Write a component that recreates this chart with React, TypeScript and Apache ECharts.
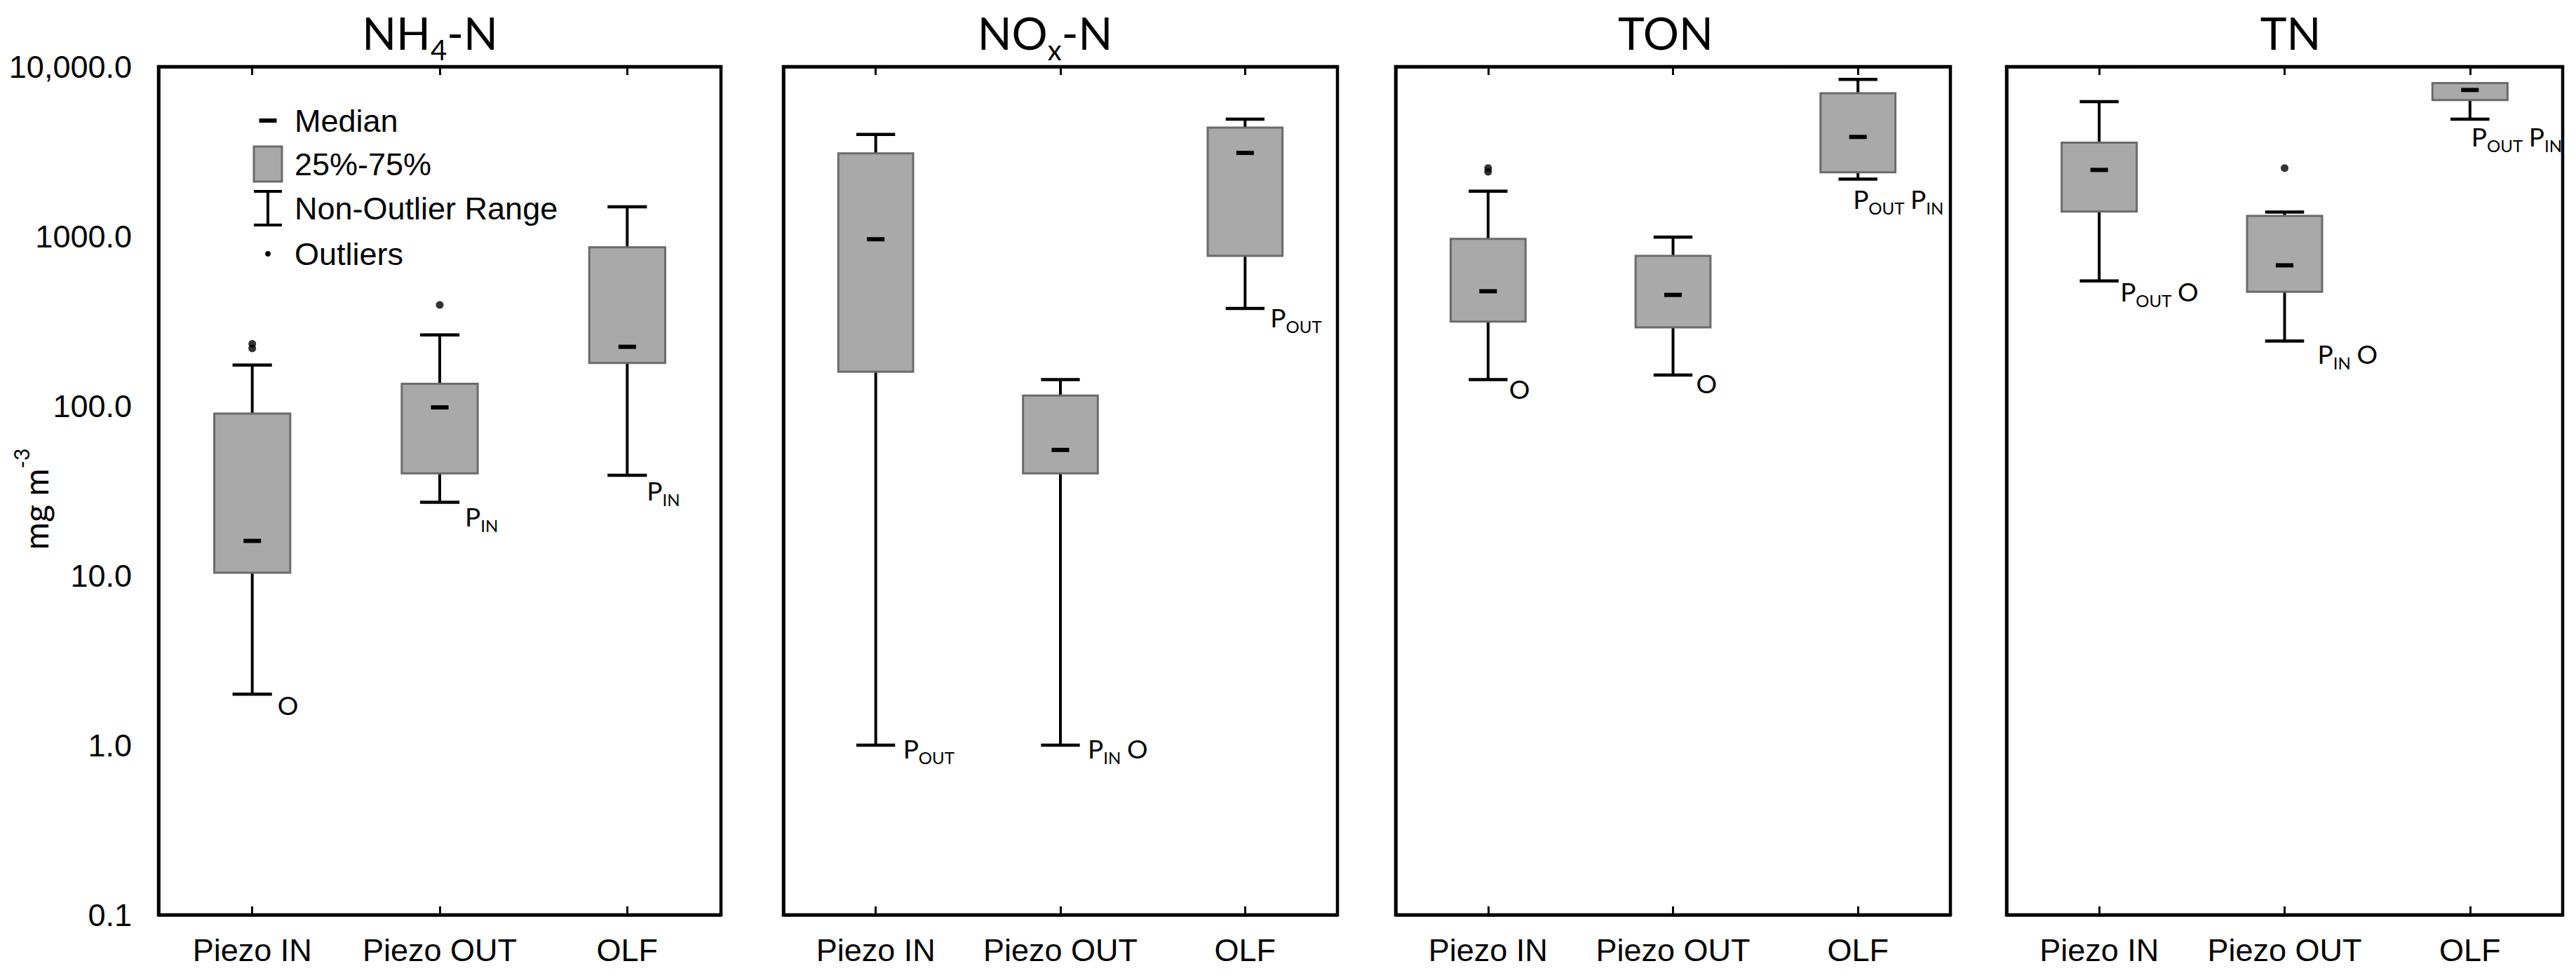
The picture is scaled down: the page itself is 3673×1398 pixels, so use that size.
import React, { useEffect, useRef } from 'react';
import * as echarts from 'echarts';

// ---------------- data ----------------
const categories = ['Piezo IN', 'Piezo OUT', 'OLF'];
const panelTitles = ['{n|NH}{s|4}{n|-N}', '{n|NO}{s|x}{n|-N}', '{n|TON}', '{n|TN}'];
const yAxisTitle = '{a|mg m}{b|-3}';
const legendLabels = ['Median', '25%-75%', 'Non-Outlier Range', 'Outliers'];

// each row: [non-outlier low, 25%, median, 75%, non-outlier high]
const nh4n = [
  [2.0, 10.4, 16, 90, 174],
  [27, 40, 98, 135, 262],
  [39, 179, 223, 860, 1490],
];
const noxn = [
  [1.0, 159, 960, 3080, 3980],
  [1.0, 40, 55, 115, 143],
  [375, 766, 3100, 4370, 4900],
];
const ton = [
  [143, 314, 474, 966, 1844],
  [152, 290, 451, 766, 988],
  [2170, 2380, 3850, 6970, 8400],
];
const tn = [
  [545, 1400, 2460, 3560, 6210],
  [241, 470, 674, 1318, 1387],
  [4900, 6350, 7280, 7990, 7990],
];

// [category index, value]
const nh4nOutliers = [[0, 218], [0, 232], [1, 394]];
const noxnOutliers: number[][] = [];
const tonOutliers = [[0, 2400], [0, 2520]];
const tnOutliers = [[1, 2520]];

// significance notes under the lower whisker
const nh4nNotes = ['O', 'P_IN', 'P_IN'];
const noxnNotes = ['P_OUT', 'P_IN O', 'P_OUT'];
const tonNotes = ['O', 'O', 'P_OUT P_IN'];
const tnNotes = ['P_OUT O', 'P_IN O', 'P_OUT P_IN'];

const boxData = [nh4n, noxn, ton, tn];
const outlierData = [nh4nOutliers, noxnOutliers, tonOutliers, tnOutliers];
const noteData = [nh4nNotes, noxnNotes, tonNotes, tnNotes];

// ---------------- layout / style ----------------
const W = 3673;
const H = 1398;
const GRID_LEFT = [226, 1117, 1990, 2861];
const GRID_RIGHT_EDGE = [1028, 1907, 2781, 3654];
const GRID_TOP = 95;
const GRID_BOTTOM_EDGE = 1305;
const TITLE_X = [613, 1490, 2375, 3266];
const TITLE_Y = 46;
// [dx from category centre, dy from lower whisker] for each note
const NOTE_OFFSETS = [
  [[36, 15], [36, 20], [28, 22]],
  [[39, 4], [39, 4], [36, 12]],
  [[30, 13], [33, 12], [-7, 28]],
  [[30, 15], [47, 18], [2, 25]],
];

const BOX_FILL = '#a9a9a9';
const BOX_STROKE = '#6b6b6b';
const LABEL_FONT = '"Liberation Sans", Arial, sans-serif';
const TITLE_FONT = 'Lato, "Open Sans", sans-serif';

function noteToRich(note: string) {
  return note
    .split(' ')
    .map((tok) => {
      const [main, sub] = tok.split('_');
      return `{p|${main}}` + (sub ? `{s|${sub}}` : '');
    })
    .join('{g| }');
}

const noteRich = {
  p: { fontSize: 37, lineHeight: 50, fontFamily: TITLE_FONT, fill: '#000', color: '#000' },
  g: { fontSize: 34, lineHeight: 50, fontFamily: TITLE_FONT, fill: '#000', color: '#000' },
  s: { fontSize: 24, lineHeight: 25, verticalAlign: 'bottom', fontFamily: TITLE_FONT, fill: '#000', color: '#000' },
};

const makeRender = (panel: number) => (params: any, api: any) => {
  const i = api.value(0);
  const low = api.value(1);
  const q1 = api.value(2);
  const med = api.value(3);
  const q3 = api.value(4);
  const high = api.value(5);
  const pLow = api.coord([i, low]);
  const cx = pLow[0];
  const yLow = pLow[1];
  const yQ1 = api.coord([i, q1])[1];
  const yMed = api.coord([i, med])[1];
  const yQ3 = api.coord([i, q3])[1];
  const yHigh = api.coord([i, high])[1];
  const band = api.coord([1, 1])[0] - api.coord([0, 1])[0];
  const boxW = band * 0.405;
  const capW = band * 0.21;
  const line = { stroke: '#000', lineWidth: 4 };
  const children: any[] = [];
  children.push({ type: 'line', shape: { x1: cx, y1: yLow, x2: cx, y2: yQ1 }, style: line });
  children.push({ type: 'line', shape: { x1: cx - capW / 2, y1: yLow, x2: cx + capW / 2, y2: yLow }, style: { stroke: '#000', lineWidth: 4.5 } });
  if (high > q3) {
    children.push({ type: 'line', shape: { x1: cx, y1: yQ3, x2: cx, y2: yHigh }, style: line });
    children.push({ type: 'line', shape: { x1: cx - capW / 2, y1: yHigh, x2: cx + capW / 2, y2: yHigh }, style: { stroke: '#000', lineWidth: 4.5 } });
  }
  children.push({
    type: 'rect',
    shape: { x: cx - boxW / 2, y: yQ3, width: boxW, height: yQ1 - yQ3 },
    style: { fill: BOX_FILL, stroke: BOX_STROKE, lineWidth: 3 },
  });
  children.push({
    type: 'rect',
    shape: { x: cx - 12.5, y: yMed - 3, width: 25, height: 6 },
    style: { fill: '#000' },
  });
  const note = noteData[panel][i];
  const off = NOTE_OFFSETS[panel][i];
  if (note) {
    children.push({
      type: 'text',
      x: cx + off[0],
      y: yLow + off[1],
      style: {
        text: noteToRich(note),
        rich: noteRich,
        fill: '#000',
        align: 'left',
        verticalAlign: 'middle',
        fontFamily: TITLE_FONT,
        fontSize: 37,
      },
    });
  }
  return { type: 'group', children };
};

function yLabel(v: number) {
  if (v >= 9999.5) return Math.round(v).toLocaleString('en-US') + '.0';
  return v.toFixed(1);
}

function buildOption() {
  const grid: any[] = [];
  const xAxis: any[] = [];
  const yAxis: any[] = [];
  const series: any[] = [];
  const graphic: any[] = [];

  for (let p = 0; p < 4; p++) {
    grid.push({
      left: GRID_LEFT[p],
      top: GRID_TOP,
      width: GRID_RIGHT_EDGE[p] - GRID_LEFT[p],
      height: GRID_BOTTOM_EDGE - GRID_TOP,
      show: true,
      borderColor: '#000',
      borderWidth: 4.5,
      backgroundColor: 'transparent',
    });
    const tick = { show: true, inside: true, alignWithLabel: true, interval: 0, length: 12, lineStyle: { color: '#000', width: 3 } };
    xAxis.push({
      type: 'category',
      gridIndex: p,
      position: 'bottom',
      data: categories,
      axisLine: { show: true, lineStyle: { color: '#000', width: 4.5 } },
      axisTick: tick,
      axisLabel: { show: true, interval: 0, hideOverlap: false, color: '#000', fontSize: 45, fontFamily: LABEL_FONT, margin: 28 },
      splitLine: { show: false },
    });
    xAxis.push({
      type: 'category',
      gridIndex: p,
      position: 'top',
      data: categories,
      axisLine: { show: true, lineStyle: { color: '#000', width: 4.5 } },
      axisTick: tick,
      axisLabel: { show: false, interval: 0 },
      splitLine: { show: false },
    });
    yAxis.push({
      type: 'log',
      logBase: 10,
      gridIndex: p,
      min: 0.1,
      max: 10000,
      axisLine: { show: true, lineStyle: { color: '#000', width: 4.5 } },
      axisTick: { show: false },
      splitLine: { show: false },
      axisLabel: {
        show: p === 0,
        color: '#000',
        fontSize: 45,
        fontFamily: LABEL_FONT,
        margin: 38,
        formatter: yLabel,
      },
    });
    series.push({
      type: 'custom',
      xAxisIndex: p * 2,
      yAxisIndex: p,
      renderItem: makeRender(p),
      encode: { x: 0, y: [1, 2, 3, 4, 5] },
      data: boxData[p].map((row, i) => [i, ...row]),
      z: 2,
      silent: true,
    });
    if (outlierData[p].length) {
      series.push({
        type: 'scatter',
        xAxisIndex: p * 2,
        yAxisIndex: p,
        data: outlierData[p],
        symbol: 'circle',
        symbolSize: 11,
        itemStyle: { color: '#000' },
        z: 3,
        silent: true,
      });
    }
    graphic.push({
      type: 'text',
      x: TITLE_X[p],
      y: TITLE_Y,
      style: {
        text: panelTitles[p],
        rich: {
          n: { fontSize: 64, lineHeight: 90, fontFamily: TITLE_FONT, fill: '#000', color: '#000' },
          s: { fontSize: 40, lineHeight: 40, verticalAlign: 'bottom', fontFamily: TITLE_FONT, fill: '#000', color: '#000' },
        },
        align: 'center',
        verticalAlign: 'middle',
        fill: '#000',
      },
    });
  }

  // y axis title
  graphic.push({
    type: 'text',
    x: 50,
    y: 712,
    rotation: Math.PI / 2,
    style: {
      text: yAxisTitle,
      rich: {
        a: { fontSize: 48, lineHeight: 70, fontFamily: TITLE_FONT, fill: '#000', color: '#000' },
        b: { fontSize: 30, lineHeight: 30, verticalAlign: 'top', fontFamily: TITLE_FONT, fill: '#000', color: '#000' },
      },
      align: 'center',
      verticalAlign: 'middle',
      fill: '#000',
    },
  });

  // legend (inside first panel)
  const lx = 382;
  const ly = [172, 234, 297, 362];
  graphic.push({ type: 'rect', shape: { x: lx - 12.5, y: ly[0] - 3, width: 25, height: 6 }, style: { fill: '#000' } });
  graphic.push({ type: 'rect', shape: { x: lx - 20, y: ly[1] - 25, width: 40, height: 50 }, style: { fill: BOX_FILL, stroke: BOX_STROKE, lineWidth: 3 } });
  graphic.push({ type: 'line', shape: { x1: lx, y1: ly[2] - 24, x2: lx, y2: ly[2] + 24 }, style: { stroke: '#000', lineWidth: 4 } });
  graphic.push({ type: 'line', shape: { x1: lx - 20, y1: ly[2] - 24, x2: lx + 20, y2: ly[2] - 24 }, style: { stroke: '#000', lineWidth: 4 } });
  graphic.push({ type: 'line', shape: { x1: lx - 20, y1: ly[2] + 24, x2: lx + 20, y2: ly[2] + 24 }, style: { stroke: '#000', lineWidth: 4 } });
  graphic.push({ type: 'circle', shape: { cx: lx, cy: ly[3], r: 4 }, style: { fill: '#000' } });
  legendLabels.forEach((t, k) => {
    graphic.push({
      type: 'text',
      x: 420,
      y: ly[k],
      style: { text: t, fontSize: 45, fontFamily: LABEL_FONT, fill: '#000', align: 'left', verticalAlign: 'middle' },
    });
  });

  return {
    animation: false,
    backgroundColor: '#fff',
    grid,
    xAxis,
    yAxis,
    series,
    graphic,
  };
}

export default function App() {
  const ref = useRef<HTMLDivElement>(null);
  useEffect(() => {
    document.body.style.margin = '0';
    if (!ref.current) return;
    const chart = echarts.init(ref.current, undefined, { renderer: 'svg', width: W, height: H });
    chart.setOption(buildOption() as any);
    return () => chart.dispose();
  }, []);
  return <div ref={ref} style={{ width: W, height: H }} />;
}
